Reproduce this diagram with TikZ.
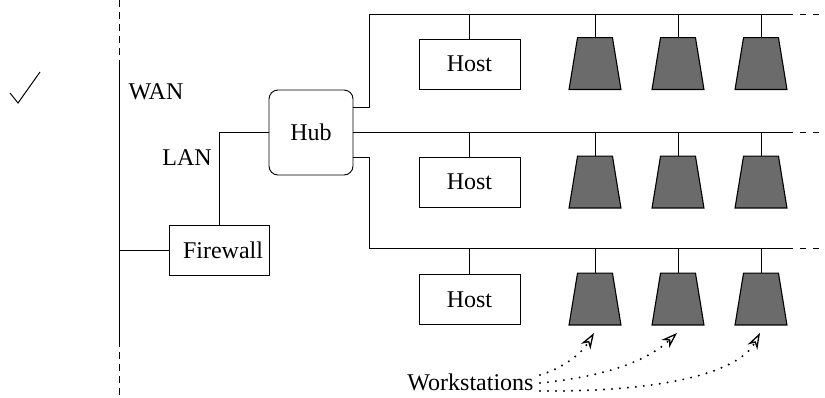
\documentclass[tikz,border=0pt]{standalone}
\usepackage{fontspec}
\setmainfont{Liberation Serif}
\usetikzlibrary{calc,arrows.meta}
\begin{document}
\begin{tikzpicture}[x=1pt,y=-1pt,line width=0.9pt,
  font=\fontsize{24}{26}\selectfont,
  box/.style={draw,rectangle,minimum width=101pt,minimum height=50pt,inner sep=0pt},
  hubbox/.style={draw,rectangle,rounded corners=9pt,minimum width=84pt,minimum height=85pt,inner sep=0pt},
  wsframe/.style={rectangle,minimum width=51pt,minimum height=51pt,inner sep=0pt},
  wsfill/.style={draw,line width=1.1pt,fill=black!58},
  dashend/.style={dash pattern=on 6pt off 7pt},
  wandash/.style={dash pattern=on 7pt off 5pt},
  pointer/.style={line width=2.2pt,line cap=round,dash pattern=on 0pt off 8pt,
    -{Stealth[open,length=16pt,width=11pt,inset=5pt,line width=1.3pt]}}]
\useasboundingbox (0,0) rectangle (825,397);
% check mark
\draw[line width=1pt] (10,93) -- (18,103) -- (40,72);
% WAN backbone
\coordinate (wanTop) at (119,0);
\coordinate (wanA) at (119,60);
\coordinate (wanB) at (119,340);
\coordinate (wanBot) at (119,397);
\draw[wandash] (wanTop) -- (wanA);
\draw (wanA) -- (wanB);
\draw[wandash] (wanB) -- (wanBot);
\node (wan) at (156,92) {WAN};
\node (lan) at (187,158) {LAN};
% firewall and hub
\node[box,minimum width=100pt] (fw) at (219,250.5) {\hspace{8pt}Firewall};
\node[hubbox] (hub) at (311,132.5) {Hub};
\draw (fw.west) -- (fw.west -| wanA);
\draw (fw.north) |- (hub.west);
% hub exits
\coordinate (hT) at (353,107);
\coordinate (hB) at (353,157);
\coordinate (b1s) at (369,14);
\coordinate (b1e) at (793,14);
\coordinate (b1d) at (800,14);
\coordinate (b1f) at (822,14);
\coordinate (b2e) at (793,132.5);
\coordinate (b2d) at (800,132.5);
\coordinate (b2f) at (822,132.5);
\coordinate (b3s) at (369,248);
\coordinate (b3e) at (793,248);
\coordinate (b3d) at (800,248);
\coordinate (b3f) at (822,248);
\draw (hT) -| (b1s) -- (b1e);
\draw[dashend] (b1d) -- (b1f);
\draw (hub.east) -- (b2e);
\draw[dashend] (b2d) -- (b2f);
\draw (hB) -| (b3s) -- (b3e);
\draw[dashend] (b3d) -- (b3f);
% hosts
\node[box] (host1) at (469.5,64) {Host};
\node[box] (host2) at (469.5,182) {Host};
\node[box] (host3) at (469.5,299.5) {Host};
\draw (host1.north) -- (host1.north |- b1s);
\draw (host2.north) -- (host2.north |- b2e);
\draw (host3.north) -- (host3.north |- b3s);
% workstations
\foreach \r/\y/\b in {1/63.5/b1s,2/182/b2e,3/299/b3s}{
  \foreach \c/\x in {1/595,2/678,3/761}{
    \node[wsframe] (w\r\c) at (\x,\y) {};
    \draw[wsfill] (w\r\c.south west) -- (w\r\c.south east)
      -- ($(w\r\c.north east)+(-8.5,0)$) -- ($(w\r\c.north west)+(8.5,0)$) -- cycle;
    \draw (w\r\c.north) -- (w\r\c.north |- \b);
  }
}
% label with pointers
\node[anchor=base east,inner sep=0pt] (wslab) at (534,390) {Workstations};
\coordinate (s1) at (540,375);
\coordinate (s2) at (540,383);
\coordinate (s3) at (540,391);
\coordinate (t1) at (594,333);
\coordinate (t2) at (677,333);
\coordinate (t3) at (760,333);
\draw[pointer] (s1) .. controls (560,369) and (580,356) .. (t1);
\draw[pointer] (s2) .. controls (600,377) and (645,363) .. (t2);
\draw[pointer] (s3) .. controls (650,392) and (737,376) .. (t3);
\end{tikzpicture}
\end{document}
